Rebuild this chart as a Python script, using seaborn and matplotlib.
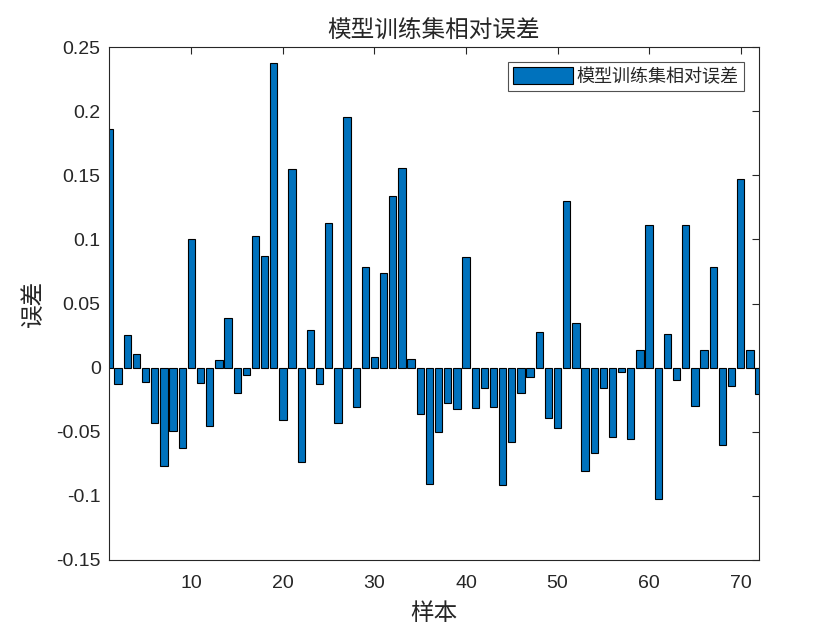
import numpy as np
import pandas as pd
import matplotlib
matplotlib.use("Agg")
import matplotlib.pyplot as plt
import seaborn as sns

samples = list(range(1, 73))
errors = [
    0.186, -0.0125, 0.0252, 0.0104, -0.0109, -0.0429, -0.0764, -0.0491, -0.0624, 0.1006,
    -0.0117, -0.0452, 0.0057, 0.0385, -0.0195, -0.0055, 0.103, 0.0874, 0.2379, -0.0406,
    0.1552, -0.0733, 0.0291, -0.0125, 0.1131, -0.0429, 0.1958, -0.0304, 0.0788, 0.0086,
    0.0741, 0.1342, 0.156, 0.0070, -0.0359, -0.0905, -0.0499, -0.0273, -0.0325, 0.0866,
    -0.0312, -0.0156, -0.0304, -0.0918, -0.0577, -0.0195, -0.0070, 0.0281, -0.0390, -0.0473,
    0.1303, 0.0351, -0.0804, -0.0663, -0.0156, -0.0538, -0.0031, -0.0554, 0.0140, 0.1115,
    -0.1024, 0.0265, -0.0094, 0.1115, -0.0296, 0.0140, 0.0788, -0.0601, -0.0140, 0.1474,
    0.0140, -0.0203,
]
xticks = [10, 20, 30, 40, 50, 60, 70]
yticks = [-0.15, -0.1, -0.05, 0, 0.05, 0.1, 0.15, 0.2, 0.25]
ytick_labels = ["-0.15", "-0.1", "-0.05", "0", "0.05", "0.1", "0.15", "0.2", "0.25"]
title = "模型训练集相对误差"
legend_label = "模型训练集相对误差"

sns.set_style("white")
plt.rcParams["font.family"] = ["Liberation Sans", "Noto Sans CJK SC", "DejaVu Sans"]
cjk = ["Noto Sans CJK SC", "DejaVu Sans"]

df = pd.DataFrame({"sample": samples, "error": errors})

fig = plt.figure(figsize=(8.4, 6.3), dpi=100)
ax = fig.add_axes([109 / 840, 1 - 560 / 630, (759 - 109) / 840, (560 - 47) / 630])

sns.barplot(data=df, x="sample", y="error", native_scale=True, width=0.8,
            color="#0072BD", saturation=1, edgecolor="black", linewidth=0.8,
            ax=ax, label=legend_label)

ax.set_xlim(1, 72)
ax.set_ylim(-0.15, 0.25)
ax.set_xticks(xticks)
ax.set_xticklabels([str(t) for t in xticks])
ax.set_yticks(yticks)
ax.set_yticklabels(ytick_labels)
ax.tick_params(direction="in", length=5, width=0.8, labelsize=14, colors="#262626",
               top=True, right=True, labelcolor="#262626")
ax.tick_params(axis="x", pad=11)
ax.tick_params(axis="y", pad=6)
for s in ax.spines.values():
    s.set_color("#262626")
    s.set_linewidth(0.8)
    s.set_visible(True)

ax.set_title(title, fontsize=17, family=cjk, color="#262626", pad=7)
ax.set_xlabel("样本", fontsize=17, family=cjk, color="#262626", va="center")
ax.xaxis.set_label_coords(0.5, (560 - 613) / 513)
ax.set_ylabel("误差", fontsize=17, family=cjk, color="#262626", va="center")
ax.yaxis.set_label_coords((33 - 109) / 650, 0.5)

leg = ax.legend(loc="upper right", bbox_to_anchor=((744 - 109) / 650, (560 - 62) / 513),
                borderaxespad=0, frameon=True, fancybox=False, edgecolor="#262626",
                handlelength=3.3, handleheight=1.0, borderpad=0.3,
                handletextpad=0.2, prop={"family": cjk, "size": 13})
leg.get_frame().set_linewidth(0.8)
for t in leg.get_texts():
    t.set_color("#262626")

fig.savefig("out.png", dpi=100)
